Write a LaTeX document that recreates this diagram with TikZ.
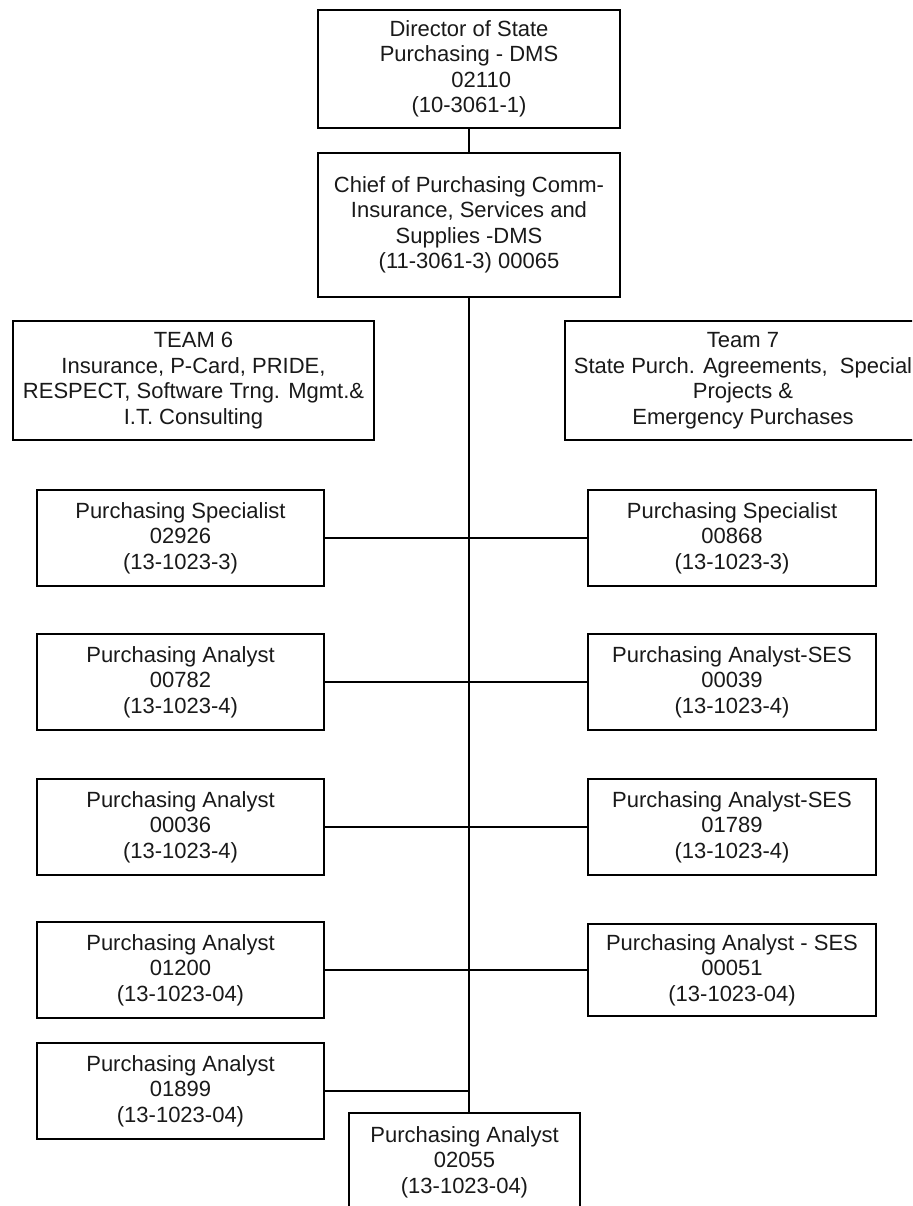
\documentclass[tikz,border=0pt]{standalone}
\usepackage{fontspec}
\setmainfont{Liberation Sans}
\begin{document}
\begin{tikzpicture}[x=1pt,y=-1pt,
  box/.style={draw=black, line width=2pt, inner sep=0pt, align=center,
    font=\fontsize{22}{25.5}\selectfont, text=black!90},
  link/.style={draw=black, line width=1.4pt}]
\useasboundingbox (0,0) rectangle (912,1206);
\clip (0,0) rectangle (912,1206);

% top of the chain
\node[box, minimum width=302, minimum height=118] (dir) at (469,69)
  {Director of State\\Purchasing - DMS\\\ \ \ \ 02110\\(10-3061-1)};
\node[box, minimum width=302, minimum height=144] (chief) at (469,225)
  {Chief of Purchasing Comm-\\Insurance, Services and\\Supplies -DMS\\(11-3061-3) 00065};

% team headings
\node[box, minimum width=361, minimum height=119] (team6) at (193.5,380.5)
  {TEAM 6\\Insurance, P-Card, PRIDE,\\RESPECT, Software Trng. Mgmt.\&\\I.T. Consulting};
\node[box, minimum width=356, minimum height=119] (team7) at (743,380.5)
  {Team 7\\State Purch. Agreements,\ \ Special\\Projects \&\\Emergency Purchases};

% left column
\node[box, minimum width=287, minimum height=96] (l1) at (180.5,538)
  {Purchasing Specialist\\02926\\(13-1023-3)};
\node[box, minimum width=287, minimum height=96] (l2) at (180.5,682)
  {Purchasing Analyst\\00782\\(13-1023-4)};
\node[box, minimum width=287, minimum height=96] (l3) at (180.5,827)
  {Purchasing Analyst\\00036\\(13-1023-4)};
\node[box, minimum width=287, minimum height=96] (l4) at (180.5,970)
  {Purchasing Analyst\\01200\\(13-1023-04)};
\node[box, minimum width=287, minimum height=96] (l5) at (180.5,1091)
  {Purchasing Analyst\\01899\\(13-1023-04)};

% right column
\node[box, minimum width=288, minimum height=96] (r1) at (732,538)
  {Purchasing Specialist\\00868\\(13-1023-3)};
\node[box, minimum width=288, minimum height=96] (r2) at (732,682)
  {Purchasing Analyst-SES\\00039\\(13-1023-4)};
\node[box, minimum width=288, minimum height=96] (r3) at (732,827)
  {Purchasing Analyst-SES\\01789\\(13-1023-4)};
\node[box, minimum width=288, minimum height=92] (r4) at (732,970)
  {Purchasing Analyst - SES\\00051\\(13-1023-04)};

% bottom of the chain
\node[box, minimum width=231, minimum height=98] (bot) at (464.5,1162)
  {Purchasing Analyst\\02055\\(13-1023-04)};

% connectors
\draw[link] (dir.south) -- (chief.north);
\draw[link] (chief.south) -- (chief.south |- bot.north);
\draw[link] (l1.east) -- (r1.west);
\draw[link] (l2.east) -- (r2.west);
\draw[link] (l3.east) -- (r3.west);
\draw[link] (l4.east) -- (r4.west);
\draw[link] (l5.east) -- (l5.east -| chief.south);
\end{tikzpicture}
\end{document}
